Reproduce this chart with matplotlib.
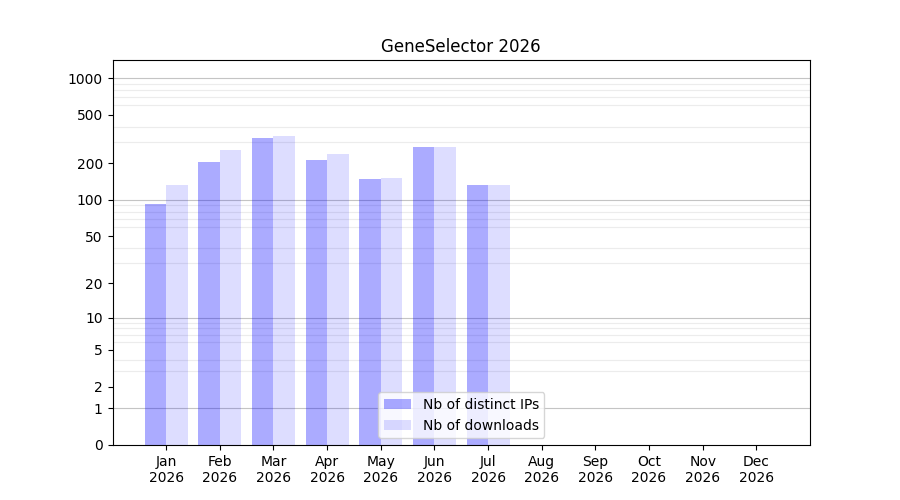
import numpy as np
import matplotlib
matplotlib.use("Agg")
import matplotlib.pyplot as plt

months = ["Jan", "Feb", "Mar", "Apr", "May", "Jun", "Jul",
          "Aug", "Sep", "Oct", "Nov", "Dec"]
year = "2026"
distinct_ips = [92, 205, 323, 213, 149, 272, 133]
downloads = [133, 257, 335, 239, 152, 272, 133]
ytick_values = [0, 1, 2, 5, 10, 20, 50, 100, 200, 500, 1000]


def fwd(v):
    return np.log10(1 + np.clip(v, 0, None))


def inv(v):
    return 10 ** v - 1


def main():
    fig, ax = plt.subplots(figsize=(9, 5), dpi=100)
    x = np.arange(len(distinct_ips))
    w = 0.4
    ax.bar(x, distinct_ips, width=-w, align='edge', color='blue', alpha=0.33,
           label='Nb of distinct IPs', zorder=2)
    ax.bar(x, downloads, width=w, align='edge', color='blue', alpha=0.133,
           label='Nb of downloads', zorder=2)

    ax.set_yscale('function', functions=(fwd, inv))
    ax.set_ylim(0, 1405)
    ax.set_yticks(ytick_values)
    ax.set_yticklabels([str(v) for v in ytick_values])
    minor = [m * d for d in (1, 10, 100) for m in range(2, 10)]
    ax.set_yticks(minor, minor=True)
    ax.tick_params(axis='y', which='minor', length=0)
    ax.yaxis.grid(True, which='minor', color='#ececec', linewidth=0.8, zorder=0)
    for d in (1, 10, 100, 1000):
        ax.axhline(d, color='#c4c4c4', linewidth=0.8, zorder=1)

    ax.set_xticks(np.arange(len(months)))
    ax.set_xticklabels([m + "\n" + year for m in months])
    ax.set_xlim(-1, 12)
    ax.set_title("GeneSelector " + year)
    ax.legend(loc='lower center')
    fig.savefig("out.png")


if __name__ == "__main__":
    main()
